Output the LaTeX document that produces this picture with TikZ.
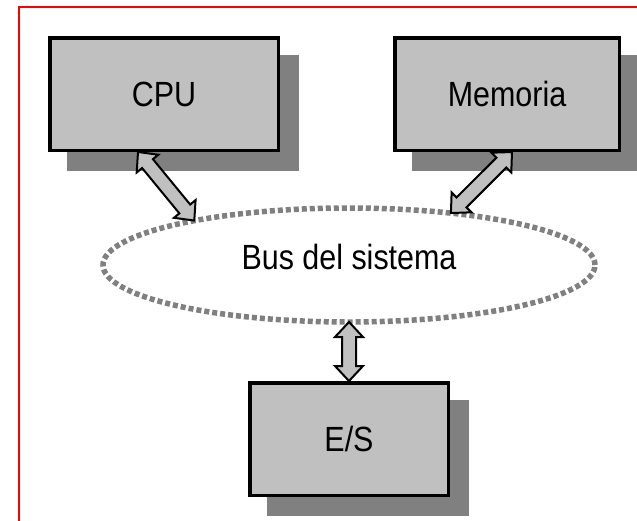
\documentclass[tikz,border=0pt]{standalone}
\usepackage{fontspec}
\setmainfont[FakeStretch=0.87]{Liberation Sans}
\usetikzlibrary{shapes.geometric,shadows,calc}

\definecolor{boxgray}{HTML}{C0C0C0}
\definecolor{shadowgray}{HTML}{808080}
\definecolor{framered}{HTML}{FF0000}

\tikzset{
  unit/.style={draw=black, line width=3.5pt, fill=boxgray, minimum height=112.5pt,
    inner sep=0pt, font=\fontsize{35}{40}\selectfont,
    drop shadow={shadow xshift=19pt, shadow yshift=-19pt, fill=shadowgray,
      draw=shadowgray, opacity=1}},
  busline/.style={ellipse, draw=shadowgray, line width=5.5pt, dash pattern=on 5pt off 3pt,
    minimum width=492pt, minimum height=114pt, inner sep=0pt, outer sep=0pt},
  busname/.style={font=\fontsize{35}{40}\selectfont},
  busarrowline/.style={draw=black, line width=2pt, fill=boxgray}
}

% double block arrow between two named points
\newcommand{\busarrow}[2]{%
  \path let \p1=(#1), \p2=(#2) in
    \pgfextra{%
      \pgfmathsetmacro{\tmpang}{atan2(\y2-\y1,\x2-\x1)}%
      \pgfmathsetmacro{\tmplen}{veclen(\x2-\x1,\y2-\y1)}%
      \pgfmathsetmacro{\tmpbase}{\tmplen-15}%
      \xdef\arrang{\tmpang}\xdef\arrlen{\tmplen}\xdef\arrbase{\tmpbase}%
      \xdef\arrx{\x1}\xdef\arry{\y1}};
  \draw[busarrowline, shift={(\arrx,\arry)}, rotate=\arrang]
    (0pt,0pt) -- (15pt,14pt) -- (15pt,7pt) -- (\arrbase pt,7pt) -- (\arrbase pt,14pt)
    -- (\arrlen pt,0pt) -- (\arrbase pt,-14pt) -- (\arrbase pt,-7pt) -- (15pt,-7pt)
    -- (15pt,-14pt) -- cycle;
}

\begin{document}
\begin{tikzpicture}[x=1pt,y=-1pt]
  \useasboundingbox (0,0) rectangle (637,520);
  \clip (0,0) rectangle (637,520);
  \draw[framered, line width=2pt] (19,7) rectangle (660,540);

  \node[unit, minimum width=228.5pt] (cpu) at (164,94) {CPU};
  \node[unit, minimum width=224.5pt] (mem) at (507,94) {Memoria};
  \node[unit, minimum width=198.5pt] (es) at (349,439) {E/S};

  \node[busline] (bus) at (349,265) {};
  \node[busname] (busname) at (349,257) {Bus del sistema};

  \coordinate (cpuport) at ([xshift=-26pt]cpu.south);
  \coordinate (memport) at ([xshift=5pt]mem.south);

  \busarrow{cpuport}{bus.164.6}
  \busarrow{memport}{bus.27.2}
  \busarrow{bus.south}{es.north}
\end{tikzpicture}
\end{document}
